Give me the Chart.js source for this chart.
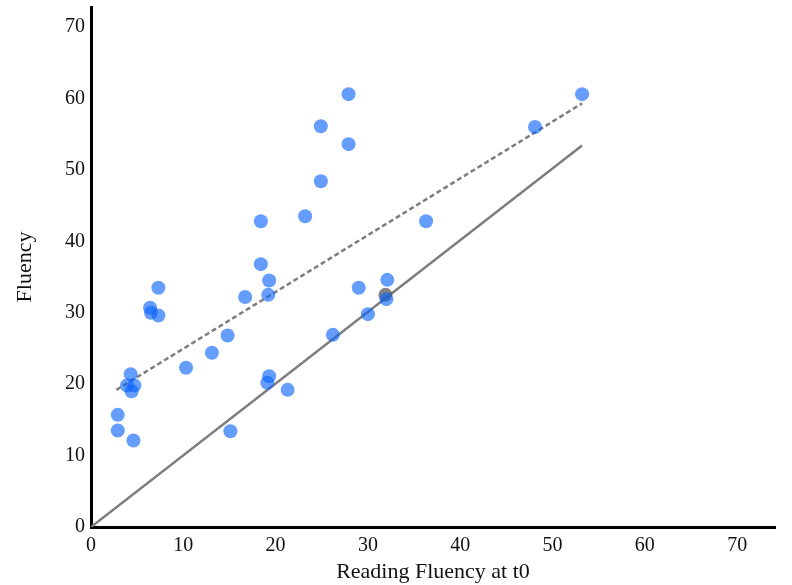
<!DOCTYPE html>
<html>
<head>
<meta charset="utf-8">
<script src="https://cdn.jsdelivr.net/npm/chart.js@4.4.0/dist/chart.umd.min.js"></script>
<style>
  html, body { margin: 0; padding: 0; background: #fff; }
  #wrap { width: 792px; height: 585px; position: relative; }
</style>
</head>
<body>
<div id="wrap"><canvas id="chart"></canvas></div>
<script>
// reading fluency at t0 (x) vs later fluency (y)
const fluencyT0 = [2.9, 2.9, 4.6, 4.3, 3.9, 4.7, 4.4, 7.3, 6.4, 6.5, 7.3, 10.3, 13.1, 14.8, 15.1, 16.7,
  18.4, 18.4, 19.3, 19.2, 19.3, 19.1, 21.3, 23.2, 24.9, 24.9, 26.2, 27.9, 27.9, 29.0, 30.0, 32.0,
  32.1, 36.3, 48.1, 53.2];
const fluencyLater = [15.7, 13.5, 12.1, 21.4, 19.8, 19.8, 19.0, 33.5, 30.7, 30.0, 29.6, 22.3, 24.4, 26.8, 13.4, 32.2,
  42.8, 36.8, 34.5, 32.5, 21.1, 20.2, 19.2, 43.5, 48.4, 56.1, 26.9, 60.6, 53.6, 33.5, 29.8, 31.9,
  34.6, 42.8, 56.0, 60.6];
// the one grey marker sitting on the identity line
const greyX = [31.9];
const greyY = [32.5];
// identity line and fitted trend line end points
const identityX = [0, 53.2];
const identityY = [0, 53.4];
const trendX = [2.75, 53.2];
const trendY = [19.2, 59.3];
const tickValues = [0, 10, 20, 30, 40, 50, 60, 70];

function toPoints(xs, ys) {
  return xs.map((x, i) => ({ x: x, y: ys[i] }));
}

const tickFont = { family: "'Liberation Serif', 'DejaVu Serif', serif", size: 20 };
const titleFont = { family: "'Liberation Serif', 'DejaVu Serif', serif", size: 22 };
const setTicks = (scale) => {
  scale.ticks = tickValues.map(v => ({ value: v }));
};

new Chart(document.getElementById('chart'), {
  type: 'scatter',
  data: {
    datasets: [
      {
        label: 'points',
        data: toPoints(fluencyT0, fluencyLater),
        backgroundColor: 'rgba(10, 100, 250, 0.63)',
        borderWidth: 0,
        pointRadius: 7,
        order: 0
      },
      {
        label: 'grey',
        data: toPoints(greyX, greyY),
        backgroundColor: 'rgba(90, 90, 90, 0.75)',
        borderWidth: 0,
        pointRadius: 7,
        order: 1
      },
      {
        type: 'line',
        label: 'identity',
        data: toPoints(identityX, identityY),
        borderColor: 'rgb(125, 125, 125)',
        borderWidth: 2.5,
        pointRadius: 0,
        fill: false,
        order: 2
      },
      {
        type: 'line',
        label: 'trend',
        data: toPoints(trendX, trendY),
        borderColor: 'rgb(125, 125, 125)',
        borderWidth: 2.5,
        borderDash: [5, 3],
        pointRadius: 0,
        fill: false,
        order: 2
      }
    ]
  },
  options: {
    responsive: true,
    maintainAspectRatio: false,
    animation: false,
    layout: { padding: { top: 4, right: 17, left: 0, bottom: 0 } },
    plugins: {
      legend: { display: false },
      tooltip: { enabled: false }
    },
    scales: {
      x: {
        type: 'linear',
        min: 0,
        max: 74.1,
        afterBuildTicks: setTicks,
        afterFit: (scale) => {
          scale.height = 58;
          scale.paddingLeft = 0;
          scale.paddingRight = 0;
        },
        grid: { display: false, drawTicks: false },
        border: { display: true, color: '#000', width: 3 },
        ticks: { color: '#111', font: tickFont, padding: 7, maxRotation: 0, autoSkip: false },
        title: {
          display: true,
          text: 'Reading Fluency at t0',
          color: '#111',
          font: titleFont,
          padding: { top: 0, bottom: 0 }
        }
      },
      y: {
        type: 'linear',
        min: 0,
        max: 72.8,
        afterBuildTicks: setTicks,
        afterFit: (scale) => {
          scale.width = 91;
          scale.paddingTop = 0;
          scale.paddingBottom = 0;
        },
        grid: { display: false, drawTicks: false },
        border: { display: true, color: '#000', width: 3 },
        ticks: { color: '#111', font: tickFont, padding: 6, autoSkip: false },
        title: {
          display: true,
          text: 'Fluency',
          color: '#111',
          font: titleFont,
          padding: { top: 12, bottom: 0 }
        }
      }
    }
  }
});
</script>
</body>
</html>
